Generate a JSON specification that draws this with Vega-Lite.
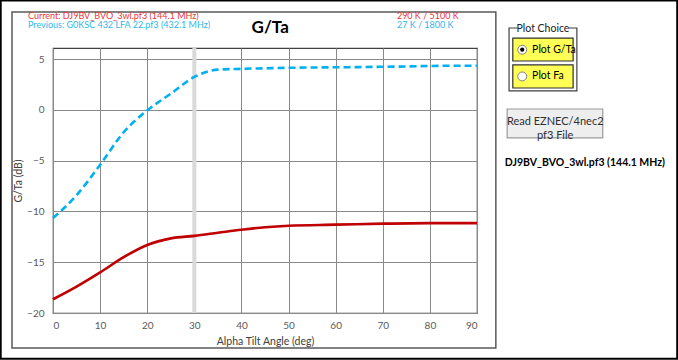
{
  "$schema": "https://vega.github.io/schema/vega-lite/v6.json",
  "width": 424,
  "height": 265,
  "autosize": "none",
  "padding": {"left": 53, "top": 48, "right": 201, "bottom": 47},
  "background": "white",
  "config": {
    "font": "Lato",
    "view": {"stroke": "#404040", "strokeWidth": 1.2},
    "axis": {"gridColor": "#8a8a8a", "gridWidth": 1, "ticks": false, "domain": false, "labelColor": "#595959", "labelFontSize": 10, "titleColor": "#404040", "titleFontSize": 10.5, "titleFontWeight": "normal", "labelFont": "Lato", "titleFont": "Lato"}
  },
  "data": {"values": [
      {"angle": 0, "value": -10.65, "series": "Previous"},
      {"angle": 5, "value": -8.4, "series": "Previous"},
      {"angle": 10, "value": -5.4, "series": "Previous"},
      {"angle": 15, "value": -2.2, "series": "Previous"},
      {"angle": 20, "value": -0.05, "series": "Previous"},
      {"angle": 25, "value": 1.6, "series": "Previous"},
      {"angle": 30, "value": 3.25, "series": "Previous"},
      {"angle": 35, "value": 3.97, "series": "Previous"},
      {"angle": 40, "value": 4.05, "series": "Previous"},
      {"angle": 45, "value": 4.1, "series": "Previous"},
      {"angle": 50, "value": 4.15, "series": "Previous"},
      {"angle": 55, "value": 4.18, "series": "Previous"},
      {"angle": 60, "value": 4.2, "series": "Previous"},
      {"angle": 65, "value": 4.22, "series": "Previous"},
      {"angle": 70, "value": 4.25, "series": "Previous"},
      {"angle": 75, "value": 4.28, "series": "Previous"},
      {"angle": 80, "value": 4.33, "series": "Previous"},
      {"angle": 85, "value": 4.35, "series": "Previous"},
      {"angle": 90, "value": 4.35, "series": "Previous"},
      {"angle": 0, "value": -18.65, "series": "Current"},
      {"angle": 5, "value": -17.4, "series": "Current"},
      {"angle": 10, "value": -16.0, "series": "Current"},
      {"angle": 15, "value": -14.5, "series": "Current"},
      {"angle": 20, "value": -13.3, "series": "Current"},
      {"angle": 25, "value": -12.65, "series": "Current"},
      {"angle": 30, "value": -12.4, "series": "Current"},
      {"angle": 35, "value": -12.1, "series": "Current"},
      {"angle": 40, "value": -11.8, "series": "Current"},
      {"angle": 45, "value": -11.55, "series": "Current"},
      {"angle": 50, "value": -11.4, "series": "Current"},
      {"angle": 60, "value": -11.3, "series": "Current"},
      {"angle": 70, "value": -11.2, "series": "Current"},
      {"angle": 80, "value": -11.15, "series": "Current"},
      {"angle": 90, "value": -11.15, "series": "Current"}
  ]},
  "encoding": {
    "x": {"field": "angle", "type": "quantitative", "scale": {"domain": [0, 90], "nice": false, "zero": false},
      "axis": {"values": [0, 10, 20, 30, 40, 50, 60, 70, 80, 90], "title": "Alpha Tilt Angle (deg)", "labelPadding": 7, "titlePadding": 6}},
    "y": {"field": "value", "type": "quantitative", "scale": {"domain": [-20, 6.1], "nice": false, "zero": false},
      "axis": {"values": [-20, -15, -10, -5, 0, 5], "title": "G/Ta (dB)", "labelPadding": 9, "titlePadding": 3}}
  },
  "layer": [
    {
      "transform": [{"filter": "datum.angle == 0 && datum.series == 'Current'"}],
      "mark": {"type": "rect", "filled": false, "stroke": "#000000", "strokeWidth": 2},
      "encoding": {"x": {"datum": -11.1}, "x2": {"datum": 132.5}, "y": {"datum": 10.78}, "y2": {"datum": -24.5}}
    },
    {
      "transform": [{"filter": "datum.angle == 0 && datum.series == 'Current'"}],
      "mark": {"type": "rect", "filled": false, "stroke": "#595959", "strokeWidth": 1.5},
      "encoding": {"x": {"datum": -8.7}, "x2": {"datum": 94.0}, "y": {"datum": 9.65}, "y2": {"datum": -23.45}}
    },
    {
      "transform": [{"filter": "datum.angle == 0 && datum.series == 'Current'"}],
      "mark": {"type": "rule", "color": "#d9d9d9", "strokeWidth": 4},
      "encoding": {"x": {"datum": 30}, "y": {"datum": 6.1}, "y2": {"datum": -20}}
    },
    {
      "transform": [{"filter": "datum.series == 'Previous'"}],
      "mark": {"type": "line", "color": "#00b0f0", "strokeWidth": 2.6, "strokeDash": [7, 4], "interpolate": "monotone"}
    },
    {
      "transform": [{"filter": "datum.series == 'Current'"}],
      "mark": {"type": "line", "color": "#c00000", "strokeWidth": 2.6, "interpolate": "monotone"}
    },
    {
      "transform": [{"filter": "datum.angle == 0 && datum.series == 'Current'"}],
      "mark": {"type": "text", "align": "center", "baseline": "middle", "fontSize": 17, "fontWeight": "bold", "color": "#000000"},
      "encoding": {"x": {"datum": 46.1}, "y": {"datum": 8.07}, "text": {"value": "G/Ta"}}
    },
    {
      "transform": [{"filter": "datum.angle == 0 && datum.series == 'Current'"}],
      "mark": {"type": "text", "align": "left", "baseline": "middle", "fontSize": 9, "color": "#e8363c"},
      "encoding": {"x": {"datum": -5.3}, "y": {"datum": 9.3}, "text": {"value": "Current: DJ9BV_BVO_3wl.pf3 (144.1 MHz)"}}
    },
    {
      "transform": [{"filter": "datum.angle == 0 && datum.series == 'Current'"}],
      "mark": {"type": "text", "align": "left", "baseline": "middle", "fontSize": 9, "color": "#2fb6ee"},
      "encoding": {"x": {"datum": -5.3}, "y": {"datum": 8.32}, "text": {"value": "Previous: G0KSC 432 LFA 22.pf3 (432.1 MHz)"}}
    },
    {
      "transform": [{"filter": "datum.angle == 0 && datum.series == 'Current'"}],
      "mark": {"type": "text", "align": "left", "baseline": "middle", "fontSize": 9, "color": "#e8363c"},
      "encoding": {"x": {"datum": 73.0}, "y": {"datum": 9.3}, "text": {"value": "290 K / 5100 K"}}
    },
    {
      "transform": [{"filter": "datum.angle == 0 && datum.series == 'Current'"}],
      "mark": {"type": "text", "align": "left", "baseline": "middle", "fontSize": 9, "color": "#2fb6ee"},
      "encoding": {"x": {"datum": 73.0}, "y": {"datum": 8.32}, "text": {"value": "27 K / 1800 K"}}
    },
    {
      "transform": [{"filter": "datum.angle == 0 && datum.series == 'Current'"}],
      "mark": {"type": "rect", "filled": false, "stroke": "#404040", "strokeWidth": 1.2},
      "encoding": {"x": {"datum": 96.8}, "x2": {"datum": 111.2}, "y": {"datum": 8.07}, "y2": {"datum": 1.87}}
    },
    {
      "transform": [{"filter": "datum.angle == 0 && datum.series == 'Current'"}],
      "mark": {"type": "rect", "fill": "white", "stroke": null},
      "encoding": {"x": {"datum": 98.6}, "x2": {"datum": 109.5}, "y": {"datum": 8.4}, "y2": {"datum": 7.75}}
    },
    {
      "transform": [{"filter": "datum.angle == 0 && datum.series == 'Current'"}],
      "mark": {"type": "text", "align": "center", "baseline": "middle", "fontSize": 10.5, "color": "#202020"},
      "encoding": {"x": {"datum": 104.0}, "y": {"datum": 8.0}, "text": {"value": "Plot Choice"}}
    },
    {
      "transform": [{"filter": "datum.angle == 0 && datum.series == 'Current'"}],
      "mark": {"type": "rect", "fill": "#ffff55", "stroke": "#303030", "strokeWidth": 1.2},
      "encoding": {"x": {"datum": 97.6}, "x2": {"datum": 110.4}, "y": {"datum": 7.08}, "y2": {"datum": 4.82}}
    },
    {
      "transform": [{"filter": "datum.angle == 0 && datum.series == 'Current'"}],
      "mark": {"type": "rect", "fill": "#ffff55", "stroke": "#303030", "strokeWidth": 1.2},
      "encoding": {"x": {"datum": 97.6}, "x2": {"datum": 110.4}, "y": {"datum": 4.43}, "y2": {"datum": 2.16}}
    },
    {
      "transform": [{"filter": "datum.angle == 0 && datum.series == 'Current'"}],
      "mark": {"type": "point", "filled": true, "fill": "white", "stroke": "#808080", "strokeWidth": 1, "size": 80, "opacity": 1},
      "encoding": {"x": {"datum": 99.6}, "y": {"datum": 5.93}}
    },
    {
      "transform": [{"filter": "datum.angle == 0 && datum.series == 'Current'"}],
      "mark": {"type": "point", "filled": true, "fill": "white", "stroke": "#808080", "strokeWidth": 1, "size": 80, "opacity": 1},
      "encoding": {"x": {"datum": 99.6}, "y": {"datum": 3.3}}
    },
    {
      "transform": [{"filter": "datum.angle == 0 && datum.series == 'Current'"}],
      "mark": {"type": "point", "filled": true, "fill": "#000000", "size": 18, "opacity": 1},
      "encoding": {"x": {"datum": 99.6}, "y": {"datum": 5.93}}
    },
    {
      "transform": [{"filter": "datum.angle == 0 && datum.series == 'Current'"}],
      "mark": {"type": "text", "align": "left", "baseline": "middle", "fontSize": 10.5, "color": "#000000"},
      "encoding": {"x": {"datum": 101.7}, "y": {"datum": 5.93}, "text": {"value": "Plot G/Ta"}}
    },
    {
      "transform": [{"filter": "datum.angle == 0 && datum.series == 'Current'"}],
      "mark": {"type": "text", "align": "left", "baseline": "middle", "fontSize": 10.5, "color": "#000000"},
      "encoding": {"x": {"datum": 101.7}, "y": {"datum": 3.3}, "text": {"value": "Plot Fa"}}
    },
    {
      "transform": [{"filter": "datum.angle == 0 && datum.series == 'Current'"}],
      "mark": {"type": "rect", "fill": "#eeeeee", "stroke": "#9a9a9a", "strokeWidth": 1.2},
      "encoding": {"x": {"datum": 96.4}, "x2": {"datum": 116.7}, "y": {"datum": 0.09}, "y2": {"datum": -2.76}}
    },
    {
      "transform": [{"filter": "datum.angle == 0 && datum.series == 'Current'"}],
      "mark": {"type": "text", "align": "center", "baseline": "middle", "fontSize": 11, "color": "#303030", "lineHeight": 14},
      "encoding": {"x": {"datum": 106.6}, "y": {"datum": -1.19}, "text": {"value": ["Read EZNEC/4nec2", "pf3 File"]}}
    },
    {
      "transform": [{"filter": "datum.angle == 0 && datum.series == 'Current'"}],
      "mark": {"type": "text", "align": "left", "baseline": "middle", "fontSize": 10.5, "fontWeight": "bold", "color": "#000000"},
      "encoding": {"x": {"datum": 95.9}, "y": {"datum": -5.23}, "text": {"value": "DJ9BV_BVO_3wl.pf3 (144.1 MHz)"}}
    }
  ]
}
